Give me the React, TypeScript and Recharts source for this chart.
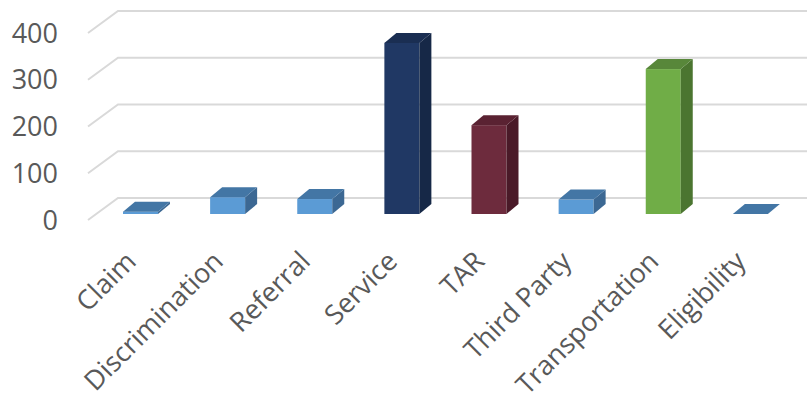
import React from 'react';
import { BarChart, Bar, XAxis, YAxis, CartesianGrid } from 'recharts';

const categories = ['Claim', 'Discrimination', 'Referral', 'Service', 'TAR', 'Third Party', 'Transportation', 'Eligibility'];
const counts = [5, 36, 32, 366, 190, 31, 310, 0];
const yTicks = [0, 100, 200, 300, 400];

// front / top / side shades per bar
const fronts = ['#5b9bd5', '#5b9bd5', '#5b9bd5', '#203864', '#6d2b3d', '#5b9bd5', '#70ad47', '#5b9bd5'];
const tops = ['#4376a5', '#4376a5', '#4376a5', '#1a2e52', '#5a2232', '#4376a5', '#58873a', '#4376a5'];
const sides = ['#3c6893', '#3c6893', '#3c6893', '#162847', '#4a1a28', '#3c6893', '#4b7530', '#3c6893'];

const data = categories.map((name, i) => ({ name, value: counts[i] }));

const TEXT = '#595959';
const FONT = '"Open Sans", sans-serif';

// oblique depth of the floor / back wall
const WALL_DX = 30;
const WALL_DY = 22;
// bar front sits a little into the floor
const BAR_OX = 8;
const BAR_OY = -6;
// bar depth
const DX = 12;
const DY = 10;

const Bar3D = (props: any) => {
  const { x, y, width, height, index } = props;
  const fx = x + BAR_OX;
  const fy = y + BAR_OY;
  const h = Math.max(height, 0);
  const f = fronts[index];
  return (
    <g>
      {h > 0 && <rect x={fx} y={fy} width={width} height={h} fill={f} />}
      {h > 0 && (
        <polygon
          points={`${fx + width},${fy} ${fx + width + DX},${fy - DY} ${fx + width + DX},${fy + h - DY} ${fx + width},${fy + h}`}
          fill={sides[index]}
        />
      )}
      <polygon
        points={`${fx},${fy} ${fx + DX},${fy - DY} ${fx + width + DX},${fy - DY} ${fx + width},${fy}`}
        fill={tops[index]}
      />
    </g>
  );
};

const GridLine = (props: any) => {
  const { x1, y1, x2 } = props;
  return (
    <polyline
      key={`g-${y1}`}
      points={`${x1 - 1},${y1} ${x1 - 1 + WALL_DX},${y1 - WALL_DY} ${x2 + 60},${y1 - WALL_DY}`}
      fill="none"
      stroke="#d9d9d9"
      strokeWidth={2}
    />
  );
};

const CategoryTick = (props: any) => {
  const { x, y, payload } = props;
  return (
    <text
      transform={`translate(${x + 5},${y + 35}) rotate(-45)`}
      textAnchor="end"
      fill={TEXT}
      fontSize={27}
      fontFamily={FONT}
    >
      {payload.value}
    </text>
  );
};

export default function App() {
  return (
    <div style={{ position: 'fixed', left: 0, top: 0, width: 807, height: 401, background: '#fff' }}>
      <BarChart width={807} height={401} data={data} margin={{ top: 33, right: 21, left: 0, bottom: 0 }}>
        <CartesianGrid vertical={false} horizontal={GridLine} />
        <YAxis
          domain={[0, 400]}
          ticks={yTicks}
          width={89}
          axisLine={false}
          tickLine={false}
          tickSize={0}
          tickMargin={31}
          tick={{ fill: TEXT, fontSize: 27, fontFamily: FONT }}
        />
        <XAxis
          dataKey="name"
          interval={0}
          axisLine={false}
          tickLine={false}
          height={181}
          tick={<CategoryTick />}
        />
        <Bar dataKey="value" barSize={35} shape={<Bar3D />} isAnimationActive={false} />
      </BarChart>
    </div>
  );
}
